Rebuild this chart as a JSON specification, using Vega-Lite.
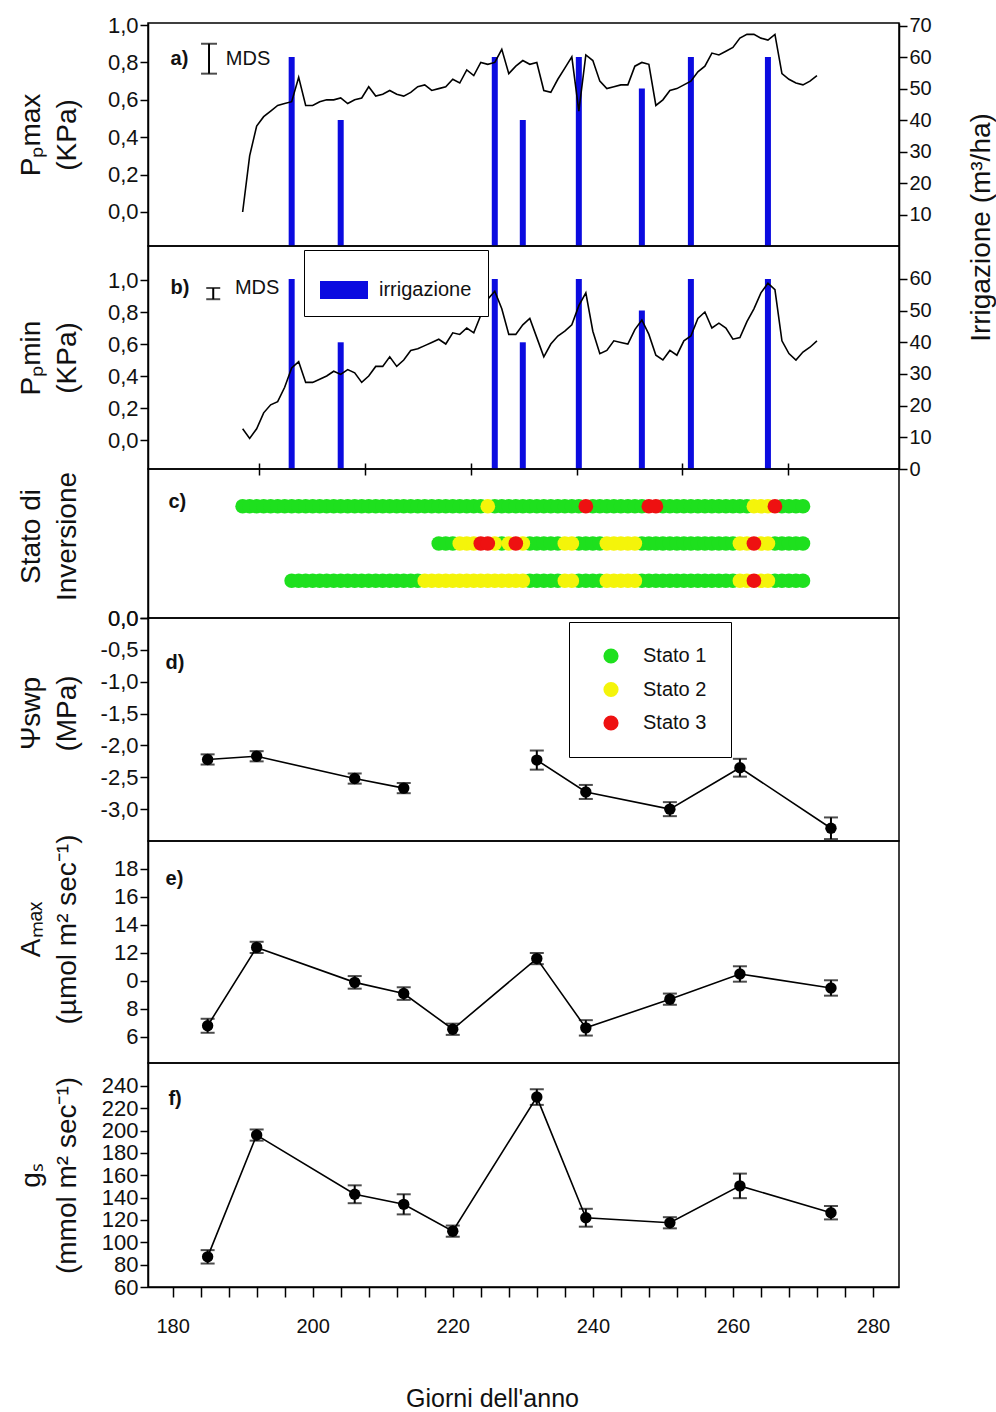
{
  "$schema": "https://vega.github.io/schema/vega-lite/v6.json",
  "background": "white",
  "autosize": {"type": "pad"},
  "padding": {"left": 16, "top": 13, "right": 3, "bottom": 2},
  "bounds": "flush",
  "spacing": 0,
  "config": {
    "font": "Liberation Sans",
    "view": {"stroke": "black", "strokeWidth": 1.5},
    "axis": {
      "labelFontSize": 22, "titleFontSize": 28, "titleFontWeight": "normal",
      "labelColor": "#111", "titleColor": "#111", "tickColor": "black", "domainColor": "black",
      "tickSize": 8, "tickWidth": 1.5, "domainWidth": 1.5, "grid": false,
      "labelOverlap": false, "labelFlush": false, "titleLineHeight": 36
    },
    "text": {"font": "Liberation Sans", "color": "#111"}
  },
  "datasets": {
    "irr": [
      {"g": 197, "mc": 60}, {"g": 204, "mc": 40}, {"g": 226, "mc": 60}, {"g": 230, "mc": 40},
      {"g": 238, "mc": 60}, {"g": 247, "mc": 50}, {"g": 254, "mc": 60}, {"g": 265, "mc": 60}
    ],
    "pp": [
      {"g": 190, "pmax": 0.00, "pmin": 0.07}, {"g": 191, "pmax": 0.30, "pmin": 0.01},
      {"g": 192, "pmax": 0.46, "pmin": 0.07}, {"g": 193, "pmax": 0.51, "pmin": 0.17},
      {"g": 194, "pmax": 0.54, "pmin": 0.22}, {"g": 195, "pmax": 0.57, "pmin": 0.24},
      {"g": 196, "pmax": 0.58, "pmin": 0.33}, {"g": 197, "pmax": 0.59, "pmin": 0.45},
      {"g": 198, "pmax": 0.72, "pmin": 0.49}, {"g": 199, "pmax": 0.57, "pmin": 0.36},
      {"g": 200, "pmax": 0.57, "pmin": 0.36}, {"g": 201, "pmax": 0.59, "pmin": 0.38},
      {"g": 202, "pmax": 0.60, "pmin": 0.40}, {"g": 203, "pmax": 0.60, "pmin": 0.43},
      {"g": 204, "pmax": 0.61, "pmin": 0.41}, {"g": 205, "pmax": 0.58, "pmin": 0.44},
      {"g": 206, "pmax": 0.60, "pmin": 0.42}, {"g": 207, "pmax": 0.61, "pmin": 0.36},
      {"g": 208, "pmax": 0.67, "pmin": 0.40}, {"g": 209, "pmax": 0.62, "pmin": 0.46},
      {"g": 210, "pmax": 0.63, "pmin": 0.46}, {"g": 211, "pmax": 0.65, "pmin": 0.52},
      {"g": 212, "pmax": 0.63, "pmin": 0.46}, {"g": 213, "pmax": 0.62, "pmin": 0.50},
      {"g": 214, "pmax": 0.64, "pmin": 0.56}, {"g": 215, "pmax": 0.67, "pmin": 0.57},
      {"g": 216, "pmax": 0.68, "pmin": 0.59}, {"g": 217, "pmax": 0.65, "pmin": 0.61},
      {"g": 218, "pmax": 0.66, "pmin": 0.63}, {"g": 219, "pmax": 0.67, "pmin": 0.60},
      {"g": 220, "pmax": 0.71, "pmin": 0.67}, {"g": 221, "pmax": 0.69, "pmin": 0.66},
      {"g": 222, "pmax": 0.76, "pmin": 0.70}, {"g": 223, "pmax": 0.73, "pmin": 0.67},
      {"g": 224, "pmax": 0.80, "pmin": 0.78}, {"g": 225, "pmax": 0.79, "pmin": 0.88},
      {"g": 226, "pmax": 0.80, "pmin": 0.93}, {"g": 227, "pmax": 0.87, "pmin": 0.82},
      {"g": 228, "pmax": 0.74, "pmin": 0.66}, {"g": 229, "pmax": 0.78, "pmin": 0.66},
      {"g": 230, "pmax": 0.81, "pmin": 0.72}, {"g": 231, "pmax": 0.79, "pmin": 0.76},
      {"g": 232, "pmax": 0.80, "pmin": 0.64}, {"g": 233, "pmax": 0.65, "pmin": 0.52},
      {"g": 234, "pmax": 0.64, "pmin": 0.60}, {"g": 235, "pmax": 0.71, "pmin": 0.65},
      {"g": 236, "pmax": 0.77, "pmin": 0.68}, {"g": 237, "pmax": 0.83, "pmin": 0.72},
      {"g": 238, "pmax": 0.54, "pmin": 0.84}, {"g": 239, "pmax": 0.84, "pmin": 0.92},
      {"g": 240, "pmax": 0.81, "pmin": 0.68}, {"g": 241, "pmax": 0.70, "pmin": 0.54},
      {"g": 242, "pmax": 0.66, "pmin": 0.56}, {"g": 243, "pmax": 0.67, "pmin": 0.62},
      {"g": 244, "pmax": 0.68, "pmin": 0.61}, {"g": 245, "pmax": 0.68, "pmin": 0.60},
      {"g": 246, "pmax": 0.78, "pmin": 0.69}, {"g": 247, "pmax": 0.80, "pmin": 0.75},
      {"g": 248, "pmax": 0.79, "pmin": 0.66}, {"g": 249, "pmax": 0.57, "pmin": 0.53},
      {"g": 250, "pmax": 0.60, "pmin": 0.50}, {"g": 251, "pmax": 0.65, "pmin": 0.56},
      {"g": 252, "pmax": 0.66, "pmin": 0.53}, {"g": 253, "pmax": 0.68, "pmin": 0.62},
      {"g": 254, "pmax": 0.70, "pmin": 0.65}, {"g": 255, "pmax": 0.75, "pmin": 0.76},
      {"g": 256, "pmax": 0.78, "pmin": 0.80}, {"g": 257, "pmax": 0.85, "pmin": 0.70},
      {"g": 258, "pmax": 0.84, "pmin": 0.73}, {"g": 259, "pmax": 0.86, "pmin": 0.70},
      {"g": 260, "pmax": 0.88, "pmin": 0.63}, {"g": 261, "pmax": 0.93, "pmin": 0.64},
      {"g": 262, "pmax": 0.95, "pmin": 0.74}, {"g": 263, "pmax": 0.95, "pmin": 0.82},
      {"g": 264, "pmax": 0.93, "pmin": 0.92}, {"g": 265, "pmax": 0.92, "pmin": 0.98},
      {"g": 266, "pmax": 0.95, "pmin": 0.94}, {"g": 267, "pmax": 0.74, "pmin": 0.62},
      {"g": 268, "pmax": 0.71, "pmin": 0.54}, {"g": 269, "pmax": 0.69, "pmin": 0.50},
      {"g": 270, "pmax": 0.68, "pmin": 0.55}, {"g": 271, "pmax": 0.70, "pmin": 0.58},
      {"g": 272, "pmax": 0.73, "pmin": 0.62}
    ],
    "stati": [
      {"r": 3, "s": 1, "g": [190,191,192,193,194,195,196,197,198,199,200,201,202,203,204,205,206,207,208,209,210,211,212,213,214,215,216,217,218,219,220,221,222,223,224,226,227,228,229,230,231,232,233,234,235,236,237,238,240,241,242,243,244,245,246,247,250,251,252,253,254,255,256,257,258,259,260,261,262,267,268,269,270]},
      {"r": 2, "s": 1, "g": [218,219,220,227,231,232,233,234,235,238,239,240,241,247,248,249,250,251,252,253,254,255,256,257,258,259,260,266,267,268,269,270]},
      {"r": 1, "s": 1, "g": [197,198,199,200,201,202,203,204,205,206,207,208,209,210,211,212,213,214,215,231,232,233,234,235,238,239,240,241,247,248,249,250,251,252,253,254,255,256,257,258,259,260,266,267,268,269,270]},
      {"r": 3, "s": 2, "g": [225,263,264,265]},
      {"r": 2, "s": 2, "g": [221,222,223,226,228,230,236,237,242,243,244,245,246,261,262,264,265]},
      {"r": 1, "s": 2, "g": [216,217,218,219,220,221,222,223,224,225,226,227,228,229,230,236,237,242,243,244,245,246,261,262,264,265]},
      {"r": 3, "s": 3, "g": [239,248,249,266]},
      {"r": 2, "s": 3, "g": [224,225,229,263]},
      {"r": 1, "s": 3, "g": [263]}
    ],
    "psi": [
      {"g": 185, "v": -2.22, "lo": -2.30, "hi": -2.14, "t": 1},
      {"g": 192, "v": -2.17, "lo": -2.25, "hi": -2.09, "t": 1},
      {"g": 206, "v": -2.52, "lo": -2.60, "hi": -2.44, "t": 1},
      {"g": 213, "v": -2.67, "lo": -2.75, "hi": -2.59, "t": 1},
      {"g": 232, "v": -2.23, "lo": -2.38, "hi": -2.08, "t": 2},
      {"g": 239, "v": -2.73, "lo": -2.84, "hi": -2.62, "t": 2},
      {"g": 251, "v": -3.00, "lo": -3.11, "hi": -2.89, "t": 2},
      {"g": 261, "v": -2.35, "lo": -2.49, "hi": -2.21, "t": 2},
      {"g": 274, "v": -3.30, "lo": -3.47, "hi": -3.13, "t": 2}
    ],
    "amax": [
      {"g": 185, "v": 6.8, "lo": 6.3, "hi": 7.3},
      {"g": 192, "v": 12.4, "lo": 12.0, "hi": 12.8},
      {"g": 206, "v": 9.9, "lo": 9.45, "hi": 10.35},
      {"g": 213, "v": 9.1, "lo": 8.65, "hi": 9.55},
      {"g": 220, "v": 6.55, "lo": 6.15, "hi": 6.95},
      {"g": 232, "v": 11.6, "lo": 11.2, "hi": 12.0},
      {"g": 239, "v": 6.65, "lo": 6.1, "hi": 7.2},
      {"g": 251, "v": 8.7, "lo": 8.3, "hi": 9.1},
      {"g": 261, "v": 10.5, "lo": 9.95, "hi": 11.05},
      {"g": 274, "v": 9.5, "lo": 8.95, "hi": 10.05}
    ],
    "gs": [
      {"g": 185, "v": 87, "lo": 81, "hi": 93},
      {"g": 192, "v": 196, "lo": 191, "hi": 201},
      {"g": 206, "v": 143, "lo": 135, "hi": 151},
      {"g": 213, "v": 134, "lo": 125, "hi": 143},
      {"g": 220, "v": 110, "lo": 105, "hi": 115},
      {"g": 232, "v": 230, "lo": 223, "hi": 237},
      {"g": 239, "v": 122, "lo": 114, "hi": 130},
      {"g": 251, "v": 117.5, "lo": 112.5, "hi": 122.5},
      {"g": 261, "v": 150.5, "lo": 139.5, "hi": 161.5},
      {"g": 274, "v": 126.5, "lo": 120.5, "hi": 132.5}
    ]
  },
  "vconcat": [
    {
      "width": 751, "height": 223,
      "encoding": {
        "x": {"field": "g", "type": "quantitative", "scale": {"domain": [177.2, 283], "nice": false, "zero": false}, "axis": null}
      },
      "layer": [
        {
          "data": {"name": "irr"},
          "mark": {"type": "bar", "size": 6},
          "encoding": {
            "y": {"field": "mc", "type": "quantitative", "scale": {"domain": [0, 70.8], "nice": false},
                  "axis": {"orient": "right", "values": [10, 20, 30, 40, 50, 60, 70], "labelFontSize": 20, "title": "Irrigazione (m³/ha)",
                           "titleAngle": 270, "titleX": 82, "titleY": 204, "titleAlign": "center", "titleBaseline": "middle"}},
            "color": {"datum": "irrigazione", "scale": {"range": ["#0b0be0"]}, "legend": null}
          }
        },
        {
          "encoding": {
            "y": {"field": "pmax", "type": "quantitative", "scale": {"domain": [-0.182, 1.011], "nice": false, "zero": false},
                  "title": ["Pₚmax", "(KPa)"],
                  "axis": {"values": [0, 0.2, 0.4, 0.6, 0.8, 1], "labelExpr": "replace(format(datum.value, '.1f'), '.', ',')",
                           "titleX": -103, "titleBaseline": "bottom"}}
          },
          "layer": [
            {
              "data": {"name": "pp"},
              "mark": {"type": "line", "color": "black", "strokeWidth": 1.6}
            },
            {
              "data": {"values": [{"g": 185.2, "lo": 0.74, "hi": 0.90}]},
              "mark": {"type": "errorbar", "color": "black", "thickness": 2, "ticks": {"size": 16}},
              "encoding": {
                "y": {"field": "lo", "type": "quantitative", "title": ["Pₚmax", "(KPa)"]},
                "y2": {"field": "hi"}
              }
            },
            {
              "data": {"values": [{"g": 179.7, "pmax": 0.82, "t": "a)"}]},
              "mark": {"type": "text", "align": "left", "baseline": "middle", "fontSize": 20, "fontWeight": "bold"},
              "encoding": {"text": {"field": "t"}}
            },
            {
              "data": {"values": [{"g": 187.6, "pmax": 0.82, "t": "MDS"}]},
              "mark": {"type": "text", "align": "left", "baseline": "middle", "fontSize": 20},
              "encoding": {"text": {"field": "t"}}
            }
          ]
        }
      ],
      "resolve": {"scale": {"y": "independent"}}
    },
    {
      "width": 751, "height": 223,
      "encoding": {
        "x": {"field": "g", "type": "quantitative", "scale": {"domain": [177.2, 283], "nice": false, "zero": false},
              "axis": {"orient": "bottom", "values": [192.4, 207.5, 222.6, 237.7, 252.8, 267.9], "labels": false, "domain": false,
                       "tickSize": 12, "offset": -6, "title": null}}
      },
      "layer": [
        {
          "data": {"name": "irr"},
          "mark": {"type": "bar", "size": 6},
          "encoding": {
            "y": {"field": "mc", "type": "quantitative", "scale": {"domain": [0, 70.4], "nice": false},
                  "axis": {"orient": "right", "values": [0, 10, 20, 30, 40, 50, 60], "labelFontSize": 20, "title": null}},
            "color": {"datum": "irrigazione", "scale": {"range": ["#0b0be0"]},
                      "legend": {"orient": "none", "legendX": 156, "legendY": 4, "title": null,
                                 "symbolType": "M-1,-0.375H1V0.375H-1Z", "symbolSize": 2304, "symbolStrokeWidth": 0, "symbolOpacity": 1,
                                 "padding": 16, "symbolOffset": 0, "labelOffset": 11, "labelFontSize": 20, "labelColor": "#111",
                                 "strokeColor": "black", "fillColor": "white"}}
          }
        },
        {
          "encoding": {
            "y": {"field": "pmin", "type": "quantitative", "scale": {"domain": [-0.181, 1.2125], "nice": false, "zero": false},
                  "title": ["Pₚmin", "(KPa)"],
                  "axis": {"values": [0, 0.2, 0.4, 0.6, 0.8, 1], "labelExpr": "replace(format(datum.value, '.1f'), '.', ',')",
                           "titleX": -103, "titleBaseline": "bottom"}}
          },
          "layer": [
            {
              "data": {"name": "pp"},
              "mark": {"type": "line", "color": "black", "strokeWidth": 1.6}
            },
            {
              "data": {"values": [{"g": 185.8, "lo": 0.88, "hi": 0.95}]},
              "mark": {"type": "errorbar", "color": "black", "thickness": 2, "ticks": {"size": 14}},
              "encoding": {
                "y": {"field": "lo", "type": "quantitative", "title": ["Pₚmin", "(KPa)"]},
                "y2": {"field": "hi"}
              }
            },
            {
              "data": {"values": [{"g": 179.7, "pmin": 0.95, "t": "b)"}]},
              "mark": {"type": "text", "align": "left", "baseline": "middle", "fontSize": 20, "fontWeight": "bold"},
              "encoding": {"text": {"field": "t"}}
            },
            {
              "data": {"values": [{"g": 188.9, "pmin": 0.95, "t": "MDS"}]},
              "mark": {"type": "text", "align": "left", "baseline": "middle", "fontSize": 20},
              "encoding": {"text": {"field": "t"}}
            }
          ]
        }
      ],
      "resolve": {"scale": {"y": "independent"}}
    },
    {
      "width": 751, "height": 149,
      "encoding": {
        "x": {"field": "g", "type": "quantitative", "scale": {"domain": [177.2, 283], "nice": false, "zero": false}, "axis": null},
        "y": {"field": "r", "type": "quantitative", "scale": {"domain": [0, 4], "nice": false},
              "title": ["Stato di", "Inversione"],
              "axis": {"values": [0], "labelExpr": "'0,0'", "titleX": -103, "titleY": 67, "titleBaseline": "bottom"}}
      },
      "layer": [
        {
          "data": {"name": "stati"},
          "transform": [{"flatten": ["g"]}],
          "mark": {"type": "circle", "size": 215, "opacity": 1},
          "encoding": {
            "color": {"field": "s", "type": "nominal", "scale": {"domain": [1, 2, 3], "range": ["#1ee01e", "#f4f40a", "#ee1111"]},
                      "legend": {"orient": "none", "legendX": 421, "legendY": 153, "title": null,
                                 "labelExpr": "'Stato ' + datum.label", "symbolType": "circle", "symbolSize": 230, "symbolStrokeWidth": 0, "symbolOpacity": 1,
                                 "padding": 24, "symbolOffset": 8, "labelOffset": 22, "labelFontSize": 20, "labelColor": "#111", "rowPadding": 13.5,
                                 "strokeColor": "black", "fillColor": "white"}}
          }
        },
        {
          "data": {"values": [{"g": 179.4, "r": 3.11, "t": "c)"}]},
          "mark": {"type": "text", "align": "left", "baseline": "middle", "fontSize": 20, "fontWeight": "bold"},
          "encoding": {"text": {"field": "t"}}
        }
      ]
    },
    {
      "width": 751, "height": 223,
      "encoding": {
        "x": {"field": "g", "type": "quantitative", "scale": {"domain": [177.2, 283], "nice": false, "zero": false}, "axis": null},
        "y": {"field": "v", "type": "quantitative", "scale": {"domain": [-3.5, 0], "nice": false, "zero": false},
              "title": ["Ψswp", "(MPa)"],
              "axis": {"values": [0, -0.5, -1, -1.5, -2, -2.5, -3],
                       "labelExpr": "replace(replace(format(datum.value, '.1f'), '.', ','), '−', '-')",
                       "titleX": -103, "titleY": 95, "titleBaseline": "bottom"}}
      },
      "layer": [
        {
          "data": {"name": "psi"},
          "mark": {"type": "line", "color": "black", "strokeWidth": 1.6},
          "encoding": {"detail": {"field": "t"}}
        },
        {
          "data": {"name": "psi"},
          "mark": {"type": "errorbar", "color": "black", "thickness": 2, "ticks": {"size": 14}},
          "encoding": {
            "y": {"field": "lo", "type": "quantitative", "title": ["Ψswp", "(MPa)"]},
            "y2": {"field": "hi"}
          }
        },
        {
          "data": {"name": "psi"},
          "mark": {"type": "point", "filled": true, "color": "black", "opacity": 1, "size": 130}
        },
        {
          "data": {"values": [{"g": 179.0, "v": -0.70, "t": "d)"}]},
          "mark": {"type": "text", "align": "left", "baseline": "middle", "fontSize": 20, "fontWeight": "bold"},
          "encoding": {"text": {"field": "t"}}
        }
      ]
    },
    {
      "width": 751, "height": 222,
      "encoding": {
        "x": {"field": "g", "type": "quantitative", "scale": {"domain": [177.2, 283], "nice": false, "zero": false}, "axis": null},
        "y": {"field": "v", "type": "quantitative", "scale": {"domain": [4.14, 20], "nice": false, "zero": false},
              "title": ["Aₘₐₓ", "(µmol m² sec⁻¹)"],
              "axis": {"values": [6, 8, 10, 12, 14, 16, 18], "labelExpr": "datum.value == 10 ? '0' : datum.label",
                       "titleX": -103, "titleY": 88, "titleBaseline": "bottom"}}
      },
      "layer": [
        {
          "data": {"name": "amax"},
          "mark": {"type": "line", "color": "black", "strokeWidth": 1.6}
        },
        {
          "data": {"name": "amax"},
          "mark": {"type": "errorbar", "color": "black", "thickness": 2, "ticks": {"size": 14}},
          "encoding": {
            "y": {"field": "lo", "type": "quantitative", "title": ["Aₘₐₓ", "(µmol m² sec⁻¹)"]},
            "y2": {"field": "hi"}
          }
        },
        {
          "data": {"name": "amax"},
          "mark": {"type": "point", "filled": true, "color": "black", "opacity": 1, "size": 130}
        },
        {
          "data": {"values": [{"g": 179.0, "v": 17.3, "t": "e)"}]},
          "mark": {"type": "text", "align": "left", "baseline": "middle", "fontSize": 20, "fontWeight": "bold"},
          "encoding": {"text": {"field": "t"}}
        }
      ]
    },
    {
      "width": 751, "height": 224,
      "encoding": {
        "x": {"field": "g", "type": "quantitative", "scale": {"domain": [177.2, 283], "nice": false, "zero": false},
              "title": "Giorni dell'anno",
              "axis": {"values": [180,184,188,192,196,200,204,208,212,216,220,224,228,232,236,240,244,248,252,256,260,264,268,272,276,280],
                       "labelExpr": "datum.value % 20 == 0 ? datum.label : ''", "tickSize": 10, "labelPadding": 19, "labelFontSize": 20,
                       "titleFontSize": 25, "titlePadding": 50, "titleX": 344, "titleAlign": "center"}},
        "y": {"field": "v", "type": "quantitative", "scale": {"domain": [60, 260.5], "nice": false, "zero": false},
              "title": ["gₛ", "(mmol m² sec⁻¹)"],
              "axis": {"values": [60, 80, 100, 120, 140, 160, 180, 200, 220, 240],
                       "titleX": -103, "titleBaseline": "bottom"}}
      },
      "layer": [
        {
          "data": {"name": "gs"},
          "mark": {"type": "line", "color": "black", "strokeWidth": 1.6}
        },
        {
          "data": {"name": "gs"},
          "mark": {"type": "errorbar", "color": "black", "thickness": 2, "ticks": {"size": 14}},
          "encoding": {
            "y": {"field": "lo", "type": "quantitative", "title": ["gₛ", "(mmol m² sec⁻¹)"]},
            "y2": {"field": "hi"}
          }
        },
        {
          "data": {"name": "gs"},
          "mark": {"type": "point", "filled": true, "color": "black", "opacity": 1, "size": 130}
        },
        {
          "data": {"values": [{"g": 179.4, "v": 228.6, "t": "f)"}]},
          "mark": {"type": "text", "align": "left", "baseline": "middle", "fontSize": 20, "fontWeight": "bold"},
          "encoding": {"text": {"field": "t"}}
        }
      ]
    }
  ],
  "resolve": {
    "scale": {"x": "shared", "y": "independent", "color": "independent"},
    "axis": {"x": "independent", "y": "independent"},
    "legend": {"color": "independent"}
  }
}
